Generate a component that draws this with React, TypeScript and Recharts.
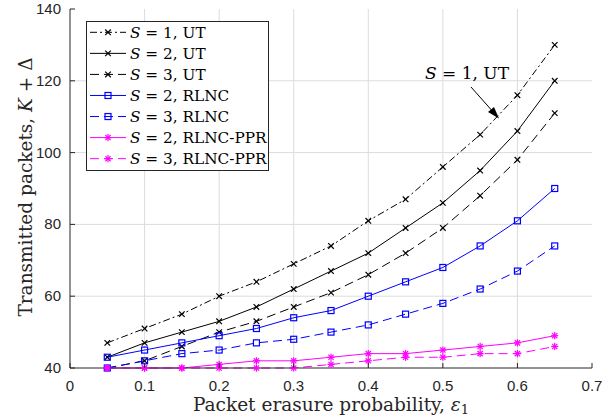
import React from 'react';
import { LineChart, Line, XAxis, YAxis, ReferenceLine } from 'recharts';

// erasure probability on x, transmitted packets on y
const erasureProb = [0.05, 0.1, 0.15, 0.2, 0.25, 0.3, 0.35, 0.4, 0.45, 0.5, 0.55, 0.6, 0.65];
const s1UT = [47, 51, 55, 60, 64, 69, 74, 81, 87, 96, 105, 116, 130];
const s2UT = [43, 47, 50, 53, 57, 62, 67, 72, 79, 86, 95, 106, 120];
const s3UT = [40, 42, 46, 50, 53, 57, 61, 66, 72, 79, 88, 98, 111];
const s2RLNC = [43, 45, 47, 49, 51, 54, 56, 60, 64, 68, 74, 81, 90];
const s3RLNC = [40, 42, 44, 45, 47, 48, 50, 52, 55, 58, 62, 67, 74];
const s2PPR = [40, 40, 40, 41, 42, 42, 43, 44, 44, 45, 46, 47, 49];
const s3PPR = [40, 40, 40, 40, 40, 40, 41, 42, 43, 43, 44, 44, 46];

const xTicks = [0, 0.1, 0.2, 0.3, 0.4, 0.5, 0.6, 0.7];
const yTicks = [40, 60, 80, 100, 120, 140];
const xDomain = [0, 0.7];
const yDomain = [40, 140];

const data = erasureProb.map((e, i) => ({
  e,
  s1UT: s1UT[i],
  s2UT: s2UT[i],
  s3UT: s3UT[i],
  s2RLNC: s2RLNC[i],
  s3RLNC: s3RLNC[i],
  s2PPR: s2PPR[i],
  s3PPR: s3PPR[i],
}));

const AXIS = '#262626';
const GRID = '#dcdcdc';
const SANS = 'Liberation Sans, Arial, sans-serif';
const SERIF = 'DejaVu Serif, serif';

type Marker = 'cross' | 'square' | 'star';

const series: { key: string; label: string; color: string; dash?: string; marker: Marker }[] = [
  { key: 's1UT', label: '1, UT', color: '#000000', dash: '7 3 2 3', marker: 'cross' },
  { key: 's2UT', label: '2, UT', color: '#000000', marker: 'cross' },
  { key: 's3UT', label: '3, UT', color: '#000000', dash: '9 5', marker: 'cross' },
  { key: 's2RLNC', label: '2, RLNC', color: '#0000ff', marker: 'square' },
  { key: 's3RLNC', label: '3, RLNC', color: '#0000ff', dash: '9 5', marker: 'square' },
  { key: 's2PPR', label: '2, RLNC-PPR', color: '#ff00ff', marker: 'star' },
  { key: 's3PPR', label: '3, RLNC-PPR', color: '#ff00ff', dash: '9 5', marker: 'star' },
];

const MarkerShape = ({ cx, cy, color, marker }: { cx: number; cy: number; color: string; marker: Marker }) => {
  if (cx == null || cy == null) return null;
  if (marker === 'cross') {
    const r = 2.8;
    return (
      <g stroke={color} strokeWidth={1.2}>
        <line x1={cx - r} y1={cy - r} x2={cx + r} y2={cy + r} />
        <line x1={cx - r} y1={cy + r} x2={cx + r} y2={cy - r} />
      </g>
    );
  }
  if (marker === 'square') {
    return <rect x={cx - 3} y={cy - 3} width={6} height={6} fill="none" stroke={color} strokeWidth={1.2} />;
  }
  const r = 3.6;
  const d = r * 0.72;
  return (
    <g stroke={color} strokeWidth={1.2}>
      <line x1={cx - r} y1={cy} x2={cx + r} y2={cy} />
      <line x1={cx} y1={cy - r} x2={cx} y2={cy + r} />
      <line x1={cx - d} y1={cy - d} x2={cx + d} y2={cy + d} />
      <line x1={cx - d} y1={cy + d} x2={cx + d} y2={cy - d} />
    </g>
  );
};

const BottomTick = (props: any) => {
  const { x, y, payload } = props;
  return (
    <g>
      <line x1={x} y1={y} x2={x} y2={y - 5} stroke={AXIS} />
      <text x={x} y={y + 23} textAnchor="middle" fontSize={15} fill={AXIS} fontFamily={SANS}>
        {payload.value}
      </text>
    </g>
  );
};

const TopTick = (props: any) => {
  const { x, y } = props;
  return <line x1={x} y1={y} x2={x} y2={y + 5} stroke={AXIS} />;
};

const LeftTick = (props: any) => {
  const { x, y, payload } = props;
  return (
    <g>
      <line x1={x} y1={y} x2={x + 5} y2={y} stroke={AXIS} />
      <text x={x - 9} y={y + 5} textAnchor="end" fontSize={15} fill={AXIS} fontFamily={SANS}>
        {payload.value}
      </text>
    </g>
  );
};

const RightTick = (props: any) => {
  const { x, y } = props;
  return <line x1={x} y1={y} x2={x - 5} y2={y} stroke={AXIS} />;
};

const Overlay = () => {
  const rowY = (i: number) => 32.3 + 21.06 * i;
  return (
    <svg width={613} height={420} style={{ position: 'absolute', left: 0, top: 0, pointerEvents: 'none' }}>
      {/* legend */}
      <rect x={86.5} y={21.5} width={182} height={149} fill="#ffffff" stroke={AXIS} strokeWidth={1} />
      {series.map((s, i) => (
        <g key={s.key}>
          <line x1={90} y1={rowY(i)} x2={126} y2={rowY(i)} stroke={s.color} strokeWidth={1} strokeDasharray={s.dash} />
          <MarkerShape cx={108} cy={rowY(i)} color={s.color} marker={s.marker} />
          <text x={130} y={rowY(i) + 5.5} fontSize={15.3} fontFamily={SERIF} fill="#000">
            <tspan fontStyle="italic">S</tspan> = {s.label}
          </text>
        </g>
      ))}

      {/* annotation */}
      <text x={425} y={79} fontSize={17} fontFamily={SERIF} fill="#000">
        <tspan fontStyle="italic">S</tspan> = 1, UT
      </text>
      <line x1={471} y1={87} x2={495} y2={114} stroke="#000" strokeWidth={1} />
      <polygon points="499,118.5 488,112 494,107" fill="#000" />

      {/* axis titles */}
      <text x={331} y={411} textAnchor="middle" fontSize={18.5} fontFamily={SERIF} fill={AXIS}>
        Packet erasure probability, <tspan fontStyle="italic">ε</tspan>
        <tspan fontSize={13} dy={3}>1</tspan>
      </text>
      <text
        x={0}
        y={0}
        transform="translate(32, 187) rotate(-90)"
        textAnchor="middle"
        fontSize={18.5}
        fontFamily={SERIF}
        fill={AXIS}
      >
        Transmitted packets, <tspan fontStyle="italic">K</tspan> + Δ
      </text>
    </svg>
  );
};

const App: React.FC = () => {
  return (
    <div style={{ position: 'absolute', left: 0, top: 0, width: 613, height: 420, background: '#ffffff' }}>
      <LineChart width={613} height={420} data={data} margin={{ top: 9, right: 21, bottom: 0, left: 0 }}>
        <XAxis
          dataKey="e"
          type="number"
          domain={xDomain}
          ticks={xTicks}
          height={52}
          tickSize={0}
          tickMargin={0}
          tickLine={false}
          stroke={AXIS}
          tick={<BottomTick />}
          interval={0}
        />
        <XAxis
          xAxisId="top"
          orientation="top"
          dataKey="e"
          type="number"
          domain={xDomain}
          ticks={xTicks}
          height={0}
          tickSize={0}
          tickMargin={0}
          tickLine={false}
          stroke={AXIS}
          tick={<TopTick />}
          interval={0}
        />
        <YAxis
          type="number"
          domain={yDomain}
          ticks={yTicks}
          width={70}
          tickSize={0}
          tickMargin={0}
          tickLine={false}
          stroke={AXIS}
          tick={<LeftTick />}
          interval={0}
        />
        <YAxis
          yAxisId="right"
          orientation="right"
          type="number"
          domain={yDomain}
          ticks={yTicks}
          width={0}
          tickSize={0}
          tickMargin={0}
          tickLine={false}
          stroke={AXIS}
          tick={<RightTick />}
          interval={0}
        />
        {/* grid lines at the interior ticks */}
        {xTicks.slice(1, -1).map((t) => (
          <ReferenceLine key={`gx${t}`} x={t} stroke={GRID} strokeWidth={1} />
        ))}
        {yTicks.slice(1, -1).map((t) => (
          <ReferenceLine key={`gy${t}`} y={t} stroke={GRID} strokeWidth={1} />
        ))}
        {series.map((s) => (
          <Line
            key={s.key}
            type="linear"
            dataKey={s.key}
            stroke={s.color}
            strokeWidth={1}
            strokeDasharray={s.dash}
            isAnimationActive={false}
            dot={(p: any) => <MarkerShape key={`${s.key}-${p.index}`} cx={p.cx} cy={p.cy} color={s.color} marker={s.marker} />}
            activeDot={false}
          />
        ))}
      </LineChart>
      <Overlay />
    </div>
  );
};

export default App;
